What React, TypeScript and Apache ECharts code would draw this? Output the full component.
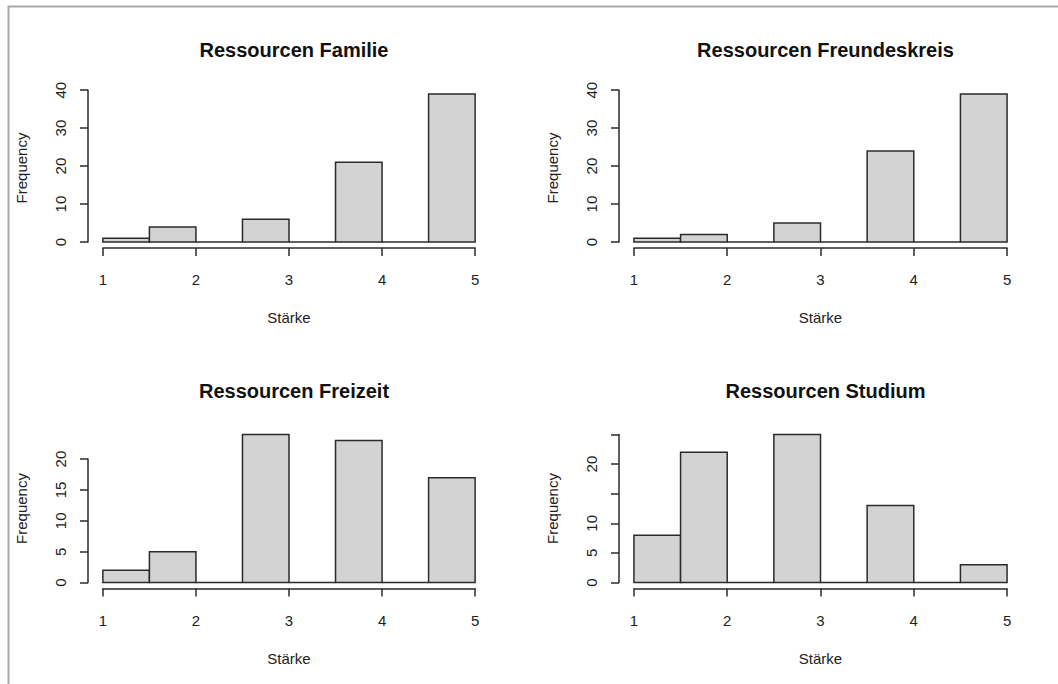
import React, { useEffect, useRef } from "react";
import * as echarts from "echarts";

// ---- data ----
const binEdges = [1, 1.5, 2, 2.5, 3, 3.5, 4, 4.5, 5];
const xTickValues = [1, 2, 3, 4, 5];
const xAxisTitle = "Stärke";
const yAxisTitle = "Frequency";

const titles = [
  "Ressourcen Familie",
  "Ressourcen Freundeskreis",
  "Ressourcen Freizeit",
  "Ressourcen Studium",
];
const familieCounts = [1, 4, 0, 6, 0, 21, 0, 39];
const freundeskreisCounts = [1, 2, 0, 5, 0, 24, 0, 39];
const freizeitCounts = [2, 5, 0, 24, 0, 23, 0, 17];
const studiumCounts = [8, 22, 0, 25, 0, 13, 0, 3];

const familieYTicks = [0, 10, 20, 30, 40];
const freundeskreisYTicks = [0, 10, 20, 30, 40];
const freizeitYTicks = [0, 5, 10, 15, 20];
const studiumYTicks = [0, 5, 10, 15, 20, 25];

const familieYLabels = ["0", "10", "20", "30", "40"];
const freundeskreisYLabels = ["0", "10", "20", "30", "40"];
const freizeitYLabels = ["0", "5", "10", "15", "20"];
const studiumYLabels = ["0", "5", "10", "", "20", ""];

const panelCounts = [familieCounts, freundeskreisCounts, freizeitCounts, studiumCounts];
const panelYTicks = [familieYTicks, freundeskreisYTicks, freizeitYTicks, studiumYTicks];
const panelYLabels = [familieYLabels, freundeskreisYLabels, freizeitYLabels, studiumYLabels];

// ---- layout ----
const cols = [
  { left: 88, width: 402 },
  { left: 619, width: 403 },
];
const rows = [
  { top: 88, height: 160 },
  { top: 428.5, height: 160 },
];
const FONT = "'Liberation Sans', Arial, sans-serif";
const TEXT = "#222";
const LINE = "#2b2b2b";

function buildOption() {
  const grid: any[] = [];
  const xAxis: any[] = [];
  const yAxis: any[] = [];
  const series: any[] = [];
  const title: any[] = [];

  const xMin = binEdges[0] - 0.04 * (binEdges[binEdges.length - 1] - binEdges[0]);
  const xMax = binEdges[binEdges.length - 1] + 0.04 * (binEdges[binEdges.length - 1] - binEdges[0]);

  for (let p = 0; p < 4; p++) {
    const col = cols[p % 2];
    const row = rows[Math.floor(p / 2)];
    const counts = panelCounts[p];
    const ticks = panelYTicks[p];
    const labels = panelYLabels[p];
    const maxC = Math.max(...counts);
    const yMin = -0.04 * maxC;
    const yMax = 1.04 * maxC;
    const px = (v: number) => col.left + (col.width * (v - xMin)) / (xMax - xMin);
    const py = (v: number) => row.top + (row.height * (yMax - v)) / (yMax - yMin);
    const maxTick = ticks[ticks.length - 1];
    const step = ticks[1] - ticks[0];

    // data grid
    const gData = grid.length;
    grid.push({ left: col.left, width: col.width, top: row.top, height: row.height, outerBoundsMode: "none" });
    xAxis.push({
      gridIndex: gData, type: "value", min: xMin, max: xMax,
      axisLine: { show: false }, axisTick: { show: false }, axisLabel: { show: false }, splitLine: { show: false },
      name: xAxisTitle, nameLocation: "middle", nameGap: 62,
      nameTextStyle: { fontFamily: FONT, fontSize: 15, color: TEXT },
    });
    yAxis.push({
      gridIndex: gData, type: "value", min: yMin, max: yMax,
      axisLine: { show: false }, axisTick: { show: false }, axisLabel: { show: false }, splitLine: { show: false },
      name: yAxisTitle, nameLocation: "middle", nameGap: 59,
      nameTextStyle: { fontFamily: FONT, fontSize: 15, color: TEXT },
    });
    const axIdx = xAxis.length - 1;
    series.push({
      type: "custom",
      xAxisIndex: axIdx,
      yAxisIndex: axIdx,
      clip: false,
      data: counts.map((c, i) => [binEdges[i], binEdges[i + 1], c]),
      encode: { x: [0, 1], y: 2 },
      renderItem: (params: any, api: any) => {
        const x0 = api.value(0), x1 = api.value(1), c = api.value(2);
        const a = api.coord([x0, c]);
        const b = api.coord([x1, 0]);
        if (c > 0) {
          return {
            type: "rect",
            shape: { x: a[0], y: a[1], width: b[0] - a[0], height: b[1] - a[1] },
            style: { fill: "#d3d3d3", stroke: LINE, lineWidth: 1.5 },
          };
        }
        return {
          type: "line",
          shape: { x1: a[0], y1: b[1], x2: b[0], y2: b[1] },
          style: { stroke: LINE, lineWidth: 1.5 },
        };
      },
    });

    // x display axis grid
    const gX = grid.length;
    grid.push({ left: px(xTickValues[0]), width: px(xTickValues[xTickValues.length - 1]) - px(xTickValues[0]), top: row.top, height: row.height, outerBoundsMode: "none" });
    xAxis.push({
      gridIndex: gX, type: "value", min: xTickValues[0], max: xTickValues[xTickValues.length - 1], interval: 1,
      position: "bottom",
      axisLine: { show: true, lineStyle: { color: LINE, width: 1.5 } },
      axisTick: { show: true, length: 8, lineStyle: { color: LINE, width: 1.5 } },
      axisLabel: { show: true, margin: 24, fontFamily: FONT, fontSize: 15, color: TEXT, showMinLabel: true, showMaxLabel: true },
      splitLine: { show: false },
    });
    yAxis.push({ gridIndex: gX, type: "value", min: 0, max: 1, show: false });

    // y display axis grid
    const gY = grid.length;
    grid.push({ left: col.left, width: col.width, top: py(maxTick), height: py(0) - py(maxTick), outerBoundsMode: "none" });
    xAxis.push({ gridIndex: gY, type: "value", min: 0, max: 1, show: false });
    yAxis.push({
      gridIndex: gY, type: "value", min: 0, max: maxTick, interval: step,
      position: "left",
      axisLine: { show: true, lineStyle: { color: LINE, width: 1.5 } },
      axisTick: { show: true, length: 8, lineStyle: { color: LINE, width: 1.5 } },
      axisLabel: {
        show: true, rotate: 90, margin: 20, fontFamily: FONT, fontSize: 15, color: TEXT,
        showMinLabel: true, showMaxLabel: true,
        formatter: (v: number) => {
          const i = ticks.indexOf(v);
          return i >= 0 ? labels[i] : "";
        },
      },
      splitLine: { show: false },
    });

    title.push({
      text: titles[p],
      left: col.left + col.width / 2,
      top: row.top - 53,
      textAlign: "center",
      textStyle: { fontFamily: FONT, fontSize: 20, fontWeight: "bold", color: "#111" },
    });
  }

  return {
    animation: false,
    backgroundColor: "#fff",
    title,
    grid,
    xAxis,
    yAxis,
    series,
    graphic: [
      {
        type: "rect",
        shape: { x: 8.5, y: 6.5, width: 1100, height: 700 },
        style: { fill: "none", stroke: "#a8a8a8", lineWidth: 2 },
        silent: true,
      },
    ],
  };
}

export default function App() {
  const ref = useRef<HTMLDivElement>(null);
  useEffect(() => {
    document.body.style.margin = "0";
    if (!ref.current) return;
    const chart = echarts.init(ref.current, null, { renderer: "svg" });
    chart.setOption(buildOption() as any);
    return () => chart.dispose();
  }, []);
  return <div ref={ref} style={{ width: 1058, height: 684 }} />;
}
